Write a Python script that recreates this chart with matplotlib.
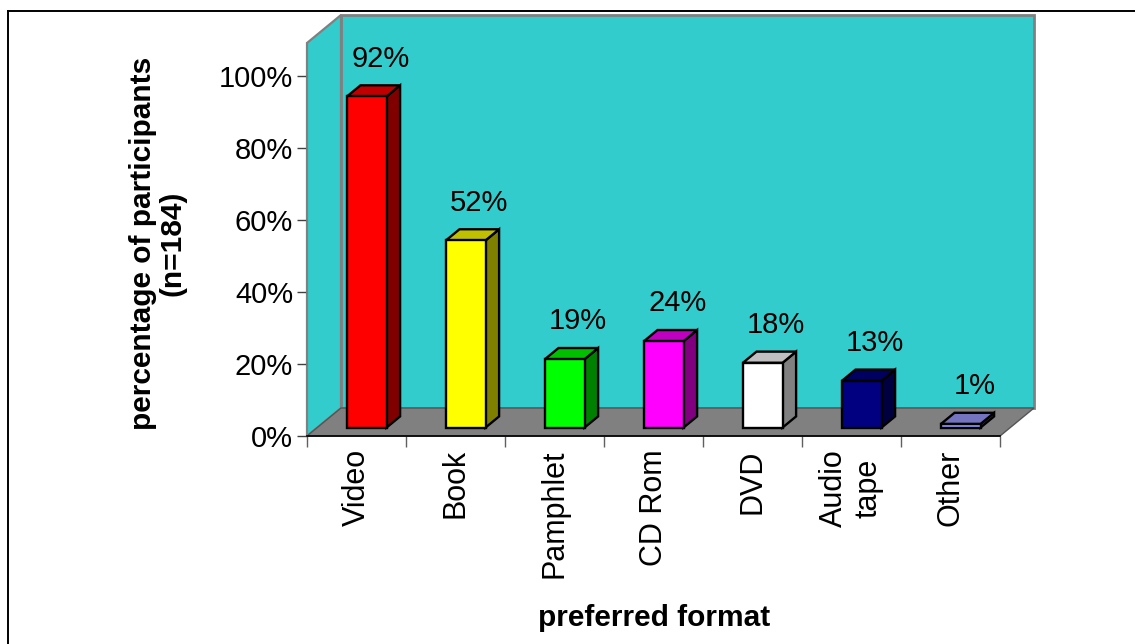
import matplotlib.pyplot as plt
from matplotlib.patches import Polygon
from matplotlib.lines import Line2D

# ============================================================
# Data
# ============================================================

formats = ["Video", "Book", "Pamphlet", "CD Rom", "DVD", "Audio\ntape", "Other"]
percentages = [92, 52, 19, 24, 18, 13, 1]

# front / top / side shades for each bar
front_colors = ["#FF0000", "#FFFF00", "#00FF00", "#FF00FF", "#FFFFFF", "#000080", "#9999FF"]
top_colors = ["#C00000", "#C0C000", "#00C000", "#C000C0", "#C0C0C0", "#000060", "#7373C0"]
side_colors = ["#800000", "#808000", "#008000", "#800080", "#808080", "#000040", "#4D4D80"]

y_ticks = [0, 20, 40, 60, 80, 100]

# ============================================================
# 3D box geometry (in data units)
# ============================================================

DX = 34 / 99      # depth shift along x, in categories
DY = 28 / 3.6     # depth shift along y, in percent
WALL_TOP = 109.2  # height of the side wall at the front
BAR_W = 0.4
D0, D1 = 0.3, 0.7  # bar depth span (0 = front, 1 = back)

WALL = "#33CCCC"
FLOOR = "#808080"
EDGE = "#808080"
FONT = "Liberation Sans"
FS_NUM = 21
FS_CAT = 22
FS_TITLE = 21.5

plt.rcParams["font.family"] = [FONT, "DejaVu Sans"]

fig = plt.figure(figsize=(11.35, 6.44), dpi=100)
W, H = 1135, 644
ax = fig.add_axes([307 / W, (H - 436) / H, 727 / W, 421 / H])
n = len(formats)
ax.set_xlim(0, n + DX)
ax.set_ylim(0, WALL_TOP + DY)
ax.patch.set_visible(False)


def poly(points, face, edge, lw, z):
    ax.add_patch(Polygon(points, closed=True, facecolor=face, edgecolor=edge,
                         linewidth=lw, zorder=z, clip_on=False, joinstyle="miter"))


# back wall, side wall, floor
poly([(DX, DY), (n + DX, DY), (n + DX, WALL_TOP + DY), (DX, WALL_TOP + DY)],
     WALL, EDGE, 2.0, 1)
poly([(0, 0), (DX, DY), (DX, WALL_TOP + DY), (0, WALL_TOP)], WALL, EDGE, 1.6, 1)
poly([(0, 0), (n, 0), (n + DX, DY), (DX, DY)], FLOOR, "#555555", 1.0, 2)

# bars
for i, v in enumerate(percentages):
    x0 = i + (1 - BAR_W) / 2 + D0 * DX
    y0 = D0 * DY
    yt = y0 + v
    ddx = (D1 - D0) * DX
    ddy = (D1 - D0) * DY
    x1 = x0 + BAR_W
    poly([(x1, y0), (x1 + ddx, y0 + ddy), (x1 + ddx, yt + ddy), (x1, yt)],
         side_colors[i], "black", 1.7, 3)
    poly([(x0, yt), (x1, yt), (x1 + ddx, yt + ddy), (x0 + ddx, yt + ddy)],
         top_colors[i], "black", 1.7, 3)
    poly([(x0, y0), (x1, y0), (x1, yt), (x0, yt)],
         front_colors[i], "black", 1.7, 4)

    # value label sits above the back edge of the bar top
    ax.text(i + 0.5 + D1 * DX, v + D1 * DY + 5.2, f"{v}%",
            ha="center", va="baseline", fontsize=FS_NUM, color="black", zorder=5)

# axes
for side in ("top", "right"):
    ax.spines[side].set_visible(False)
ax.spines["left"].set_bounds(0, WALL_TOP)
ax.spines["left"].set_color(EDGE)
ax.spines["left"].set_linewidth(1.2)
ax.spines["left"].set_zorder(2.5)
ax.spines["bottom"].set_bounds(0, n)
ax.spines["bottom"].set_color("black")
ax.spines["bottom"].set_linewidth(1.2)
ax.spines["bottom"].set_zorder(2.5)

ax.set_yticks(y_ticks)
ax.set_yticklabels([f"{t}%" for t in y_ticks], fontsize=FS_NUM)
ax.tick_params(axis="y", direction="out", length=7.5, width=1, color="#404040", pad=2.5)

ax.set_xticks([i + 0.5 for i in range(n)])
ax.set_xticklabels(formats, rotation=90, fontsize=FS_CAT, va="top", ha="center",
                   multialignment="center")
ax.tick_params(axis="x", length=0, pad=9.5)
ax.set_xticks(range(n + 1), minor=True)
ax.tick_params(axis="x", which="minor", direction="out", length=8, width=1, color="#606060")

# axis titles
fig.text(158 / W, 1 - 243 / H, "percentage of participants\n(n=184)",
         rotation=90, ha="center", va="center", multialignment="center",
         fontsize=FS_TITLE, fontweight="bold", linespacing=1.05)
fig.text(654 / W, 1 - 626 / H, "preferred format", ha="center", va="baseline",
         fontsize=FS_TITLE, fontweight="bold")

# outer frame (top and left edges)
fig.add_artist(Line2D([8 / W, 1], [1 - 11 / H, 1 - 11 / H], transform=fig.transFigure,
                      color="black", linewidth=1.4))
fig.add_artist(Line2D([8 / W, 8 / W], [1 - 11 / H, 0], transform=fig.transFigure,
                      color="black", linewidth=1.4))

fig.savefig("out.png", dpi=100)
